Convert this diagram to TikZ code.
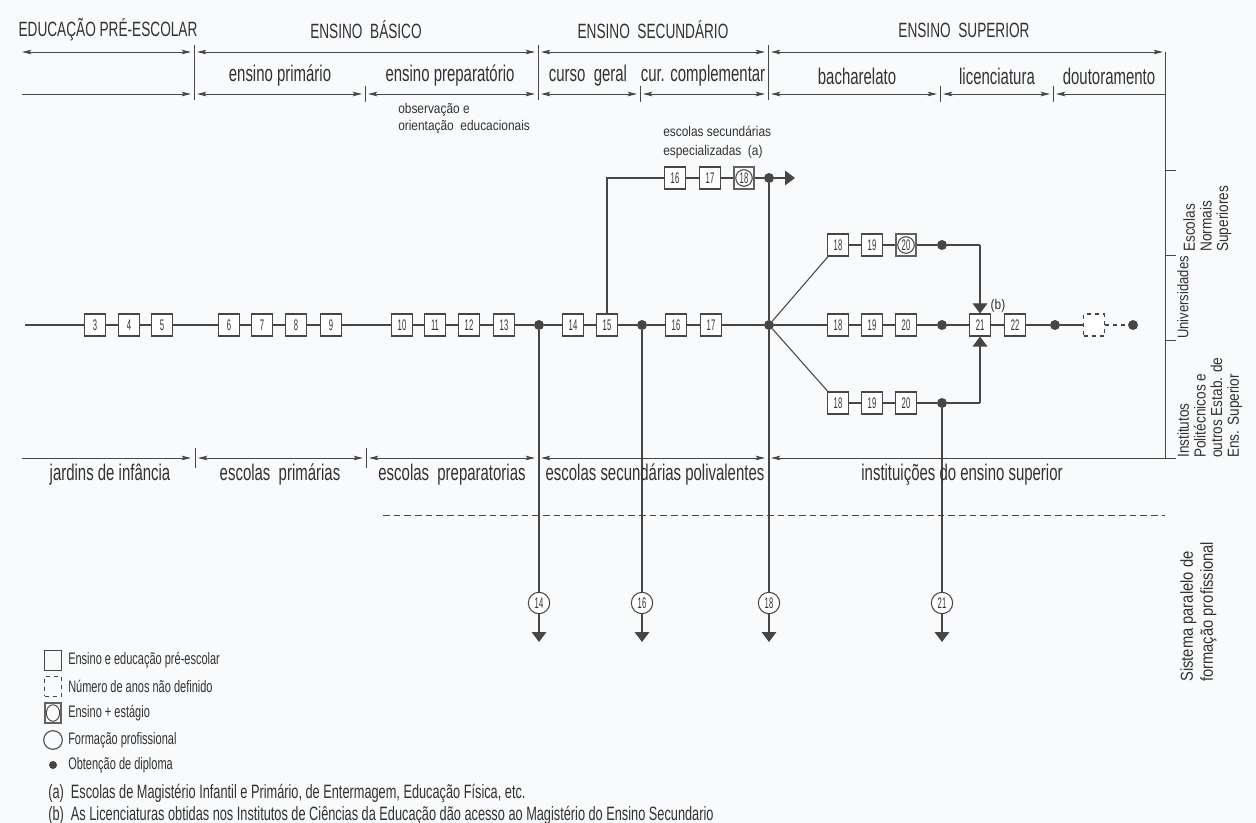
\documentclass[tikz,border=0pt]{standalone}
\usepackage{fontspec}
\setmainfont[FakeStretch=0.66]{Liberation Sans}
\newfontfamily\numfont[FakeStretch=0.5]{Liberation Sans}
\newfontfamily\smallfont[FakeStretch=0.85]{Liberation Sans}
\usetikzlibrary{arrows.meta}
\definecolor{ink}{RGB}{70,70,70}
\definecolor{txt}{RGB}{50,50,50}
\definecolor{bgc}{RGB}{249,250,252}
\newcommand{\fHead}{\fontsize{15.5}{17}\selectfont}
\newcommand{\fRow}{\fontsize{17}{19}\selectfont}
\newcommand{\fNum}{\numfont\fontsize{11.5}{12}\selectfont}
\newcommand{\fSmall}{\smallfont\fontsize{10.5}{12.5}\selectfont}
\newcommand{\fSide}{\smallfont\fontsize{12}{12.5}\selectfont}
\newcommand{\fLeg}{\fontsize{12.5}{14}\selectfont}
\newcommand{\fNote}{\fontsize{14.5}{16}\selectfont}
\tikzset{
  yr/.style={draw=ink, line width=0.8pt, fill=white, minimum width=15.5pt, minimum height=16.5pt, inner sep=0pt, font=\fNum, text=txt},
  yrc/.style={yr, draw=ink!85, line width=1.6pt, path picture={\draw[ink, line width=0.8pt] (path picture bounding box.center) circle (6.2pt);}},
  yd/.style={yr, dashed},
  dotn/.style={circle, fill=ink, draw=none, minimum size=7.5pt, inner sep=0pt},
  circn/.style={circle, draw=ink, line width=0.8pt, fill=white, minimum size=16pt, inner sep=0pt, font=\fNum, text=txt},
  lnk/.style={draw=ink, line width=0.8pt},
  dimr/.style={draw=ink, line width=0.6pt},
  tipa/.style={-{Triangle[length=7.5pt, width=11pt]}},
  dtip/.style={{Stealth[length=7pt,width=3.4pt,inset=1.5pt]}-{Stealth[length=7pt,width=3.4pt,inset=1.5pt]}},
  dtipr/.style={-{Stealth[length=7pt,width=3.4pt,inset=1.5pt]}},
  dtipl/.style={{Stealth[length=7pt,width=3.4pt,inset=1.5pt]}-},
  hd/.style={font=\fHead, text=txt, inner sep=0pt},
  rw/.style={font=\fRow, text=txt, inner sep=0pt},
  sm/.style={font=\fSmall, text=txt, inner sep=0pt},
  sd/.style={font=\fSide, text=txt, inner sep=0pt, rotate=90, anchor=north west, align=left},
  lg/.style={font=\fLeg, text=txt, inner sep=0pt, anchor=west},
}
\begin{document}
\begin{tikzpicture}[x=0.75pt, y=-0.75pt]
\useasboundingbox[fill=bgc] (0,0) rectangle (1256,823);

% ---------- header ----------
\node[hd] (h1) at (108,30) {EDUCAÇÃO PRÉ-ESCOLAR};
\node[hd] (h2) at (366,30) {ENSINO\ \ BÁSICO};
\node[hd] (h3) at (653,30) {ENSINO\ \ SECUNDÁRIO};
\node[hd] (h4) at (964,30) {ENSINO\ \ SUPERIOR};

\foreach \n/\a/\b/\y/\s in {r1a/22/191/52/dtip, r1b/197/535/52/dtip, r1c/541/765/52/dtip, r1d/771/1163/52/dtip,
  r2a/22/191/94/dtipr, r2b/197/362/94/dtip, r2c/368/535/94/dtip, r2d/541/637/94/dtip, r2e/643/765/94/dtip,
  r2f/771/937/94/dtip, r2g/943/1050/94/dtip, r2h/1056/1165/94/dtipl,
  b1/22/191/458/dtipr, b2/198/363/458/dtip, b3/369/535/458/dtip, b4/541/765/458/dtip, b5/771/1165/458/dtipl}{
  \coordinate (\n s) at (\a,\y);
  \coordinate (\n e) at (\b,\y);
  \draw[dimr,\s] (\n s) -- (\n e);
}
% bars and ticks
\foreach \x in {194,538,768}{\draw[dimr] (\x,45) -- (\x,100);}
\foreach \x in {365,640,940,1053}{\draw[dimr] (\x,86) -- (\x,102);}
\foreach \x in {195,366}{\draw[dimr] (\x,448) -- (\x,468);}
% right border
\coordinate (rbt) at (1165,52);
\coordinate (rbb) at (1165,458);
\draw[dimr] (rbt) -- (rbb);
\foreach \y in {170,255,340,458}{\draw[dimr] (1165,\y) -- (1176,\y);}

% row 2 labels
\node[rw] (s1) at (280,76) {ensino primário};
\node[rw] (s2) at (450,76) {ensino preparatório};
\node[rw] (s3) at (588,76) {curso\ \ geral};
\node[rw] (s4) at (703,76) {cur. complementar};
\node[rw] (s5) at (857,76) {bacharelato};
\node[rw] (s6) at (997,76) {licenciatura};
\node[rw] (s7) at (1109,76) {doutoramento};

\node[sm, anchor=north west, align=left] (obs) at (398,103) {observação e\\orientação\ \ educacionais};
\node[sm, anchor=west, align=left, font=\smallfont\fontsize{10.5}{14.2}\selectfont] (esp) at (663,142.5) {escolas secundárias\\especializadas\ \ (a)};

% ---------- main line ----------
\coordinate (start) at (25,325);
\foreach \n/\x in {3/95,4/129,5/162,6/229,7/262,8/296,9/331,10/402,11/435,12/469,13/504,14/573,15/607,16/676,17/711,18/838,19/872,20/906,21/980,22/1015}{
  \node[yr] (m\n) at (\x,325) {\n};
}
\node[yd] (mx) at (1094,325) {};
\node[dotn] (d1) at (539,325) {};
\node[dotn] (d2) at (642,325) {};
\node[dotn] (d3) at (769,325) {};
\node[dotn] (d4) at (942,325) {};
\node[dotn] (d5) at (1055,325) {};
\node[dotn] (d6) at (1133,325) {};
\draw[lnk] (start) -- (m3) -- (m4) -- (m5) -- (m6) -- (m7) -- (m8) -- (m9) -- (m10) -- (m11) -- (m12) -- (m13) -- (d1)
  -- (m14) -- (m15) -- (d2) -- (m16) -- (m17) -- (d3) -- (m18) -- (m19) -- (m20) -- (d4) -- (m21) -- (m22) -- (d5) -- (mx);
\draw[lnk, dashed] (mx) -- (d6);
\node[sm] (bnote) at (998,306) {(b)};

% ---------- top branch ----------
\node[yr] (t16) at (675,178) {16};
\node[yr] (t17) at (710,178) {17};
\node[yrc] (t18) at (744,178) {18};
\node[dotn] (td) at (769,178) {};
\coordinate (tend) at (795,178);
\draw[lnk] (m15.north) |- (t16);
\draw[lnk] (t16) -- (t17) -- (t18) -- (td);
\draw[lnk, tipa] (td) -- (tend);
\draw[lnk] (td) -- (d3);

% ---------- upper branch ----------
\node[yr] (u18) at (838,245) {18};
\node[yr] (u19) at (872,245) {19};
\node[yrc] (u20) at (906,245) {20};
\node[dotn] (ud) at (942,245) {};
\coordinate (uc) at (980,245);
\draw[lnk] (d3) -- (u18);
\draw[lnk] (u18) -- (u19) -- (u20) -- (ud) -- (uc);
\draw[lnk, tipa] (uc) -- (m21.north);

% ---------- lower branch ----------
\node[yr] (l18) at (838,403) {18};
\node[yr] (l19) at (872,403) {19};
\node[yr] (l20) at (906,403) {20};
\node[dotn] (ld) at (942,403) {};
\coordinate (lc) at (980,403);
\draw[lnk] (d3) -- (l18);
\draw[lnk] (l18) -- (l19) -- (l20) -- (ld) -- (lc);
\draw[lnk, tipa] (lc) -- (m21.south);

% ---------- vertical exits ----------
\node[circn] (c14) at (539,603) {14};
\node[circn] (c16) at (642,603) {16};
\node[circn] (c18) at (769,603) {18};
\node[circn] (c21) at (942,603) {21};
\coordinate (a14) at (539,642);
\coordinate (a16) at (642,642);
\coordinate (a18) at (769,642);
\coordinate (a21) at (942,642);
\draw[lnk] (d1) -- (c14);
\draw[lnk] (d2) -- (c16);
\draw[lnk] (d3) -- (c18);
\draw[lnk] (ld) -- (c21);
\foreach \n in {14,16,18,21}{\draw[lnk, tipa] (c\n) -- (a\n);}

% ---------- bottom row ----------
\node[rw] (e1) at (110,475) {jardins de infância};
\node[rw] (e2) at (280,475) {escolas\ \ primárias};
\node[rw] (e3) at (452,475) {escolas\ \ preparatorias};
\node[rw] (e4) at (655,475) {escolas secundárias polivalentes};
\node[rw] (e5) at (962,475) {instituições do ensino superior};
\coordinate (dl1) at (383,515);
\coordinate (dl2) at (1165,515);
\draw[dimr, dash pattern=on 5pt off 3pt] (dl1) -- (dl2);

% ---------- right labels ----------
\node[sd] (rl1) at (1183,252) {Escolas\\Normais\\Superiores};
\node[sd, font=\smallfont\fontsize{11.5}{12}\selectfont] (rl2) at (1177,339) {Universidades};
\node[sd] (rl3) at (1177,458) {Institutos\\Politécnicos e\\outros Estab. de\\Ens. Superior};
\node[sd, font=\smallfont\fontsize{13}{15}\selectfont] (rl4) at (1180,682) {Sistema paralelo de\\formação profissional};

% ---------- legend ----------
\node[draw=ink, line width=0.7pt, minimum width=12.5pt, minimum height=15pt, inner sep=0pt] (k1) at (53,660) {};
\node[draw=ink, line width=0.7pt, dashed, minimum width=12.5pt, minimum height=15pt, inner sep=0pt] (k2) at (53,686) {};
\node[draw=ink!85, line width=1.6pt, minimum width=12.5pt, minimum height=15pt, inner sep=0pt,
  path picture={\draw[ink, line width=0.7pt] (path picture bounding box.center) ellipse (5pt and 6.2pt);}] (k3) at (53,713) {};
\node[draw=ink, line width=0.8pt, circle, minimum size=14pt, inner sep=0pt] (k4) at (53,740) {};
\node[dotn, minimum size=6pt] (k5) at (53,765) {};
\node[lg] (kt1) at (68,660) {Ensino e educação pré-escolar};
\node[lg] (kt2) at (68,686) {Número de anos não definido};
\node[lg] (kt3) at (68,713) {Ensino + estágio};
\node[lg] (kt4) at (68,740) {Formação profissional};
\node[lg] (kt5) at (68,765) {Obtenção de diploma};
\node[lg, font=\fNote] (na) at (48,793) {(a)\ \ Escolas de Magistério Infantil e Primário, de Entermagem, Educação Física, etc.};
\node[lg, font=\fNote] (nb) at (48,815) {(b)\ \ As Licenciaturas obtidas nos Institutos de Ciências da Educação dão acesso ao Magistério do Ensino Secundario};
\end{tikzpicture}
\end{document}
